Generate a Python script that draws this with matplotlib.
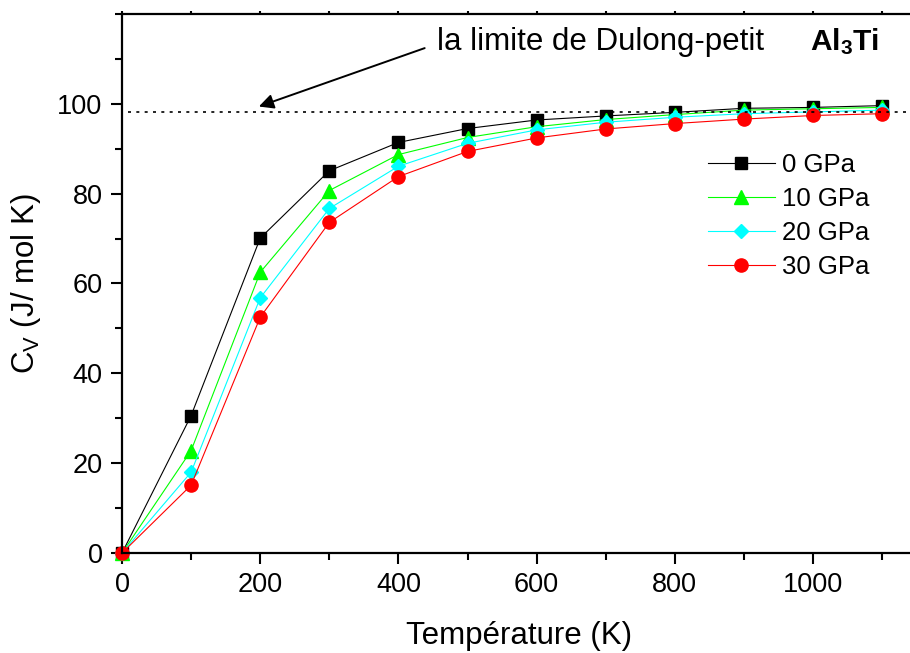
import numpy as np
import matplotlib
matplotlib.use("Agg")
from matplotlib import pyplot as plt
from matplotlib.ticker import MultipleLocator

plt.rcParams['font.family'] = ['Liberation Sans', 'DejaVu Sans']
plt.rcParams['mathtext.fontset'] = 'custom'
plt.rcParams['mathtext.rm'] = 'Liberation Sans'
plt.rcParams['mathtext.it'] = 'Liberation Sans:italic'
plt.rcParams['mathtext.bf'] = 'Liberation Sans:bold'

# temperatures (K)
temperature = [0, 100, 200, 300, 400, 500, 600, 700, 800, 900, 1000, 1100]

# heat capacity Cv (J/mol K) at each pressure
cv_0gpa = [0, 30.6, 70.1, 85.1, 91.4, 94.5, 96.4, 97.3, 98.1, 99.0, 99.2, 99.6]
cv_10gpa = [0, 22.8, 62.5, 80.7, 88.7, 92.5, 94.9, 96.5, 97.6, 98.6, 98.9, 99.2]
cv_20gpa = [0, 18.0, 56.8, 76.7, 86.1, 91.2, 94.2, 95.9, 97.0, 97.8, 98.2, 98.6]
cv_30gpa = [0, 15.1, 52.5, 73.6, 83.8, 89.4, 92.4, 94.4, 95.6, 96.6, 97.4, 97.8]

series_labels = ['0 GPa', '10 GPa', '20 GPa', '30 GPa']
dulong_petit = 98.2


def main():
    fig = plt.figure(figsize=(9.1, 6.53), dpi=100)
    ax = fig.add_axes([0.1341, 0.1531, 0.8732, 0.8255])

    styles = [
        ('black', 's', 8.5),
        ('#00ff00', '^', 10),
        ('#00ffff', 'D', 7),
        ('#ff0000', 'o', 9.5),
    ]
    series = [cv_0gpa, cv_10gpa, cv_20gpa, cv_30gpa]
    for values, label, (color, marker, ms) in zip(series, series_labels, styles):
        ax.plot(temperature, values, color=color, lw=0.8, marker=marker,
                markersize=ms, markeredgecolor=color, markerfacecolor=color,
                label=label, clip_on=False)

    ax.hlines(dulong_petit, 8, 1150, colors='black', lw=1.2,
              linestyles=(0, (1.8, 3.2)))

    ax.annotate('', xy=(198, 99.4), xytext=(438, 112.4),
                arrowprops=dict(arrowstyle='-|>', color='black', lw=1.4,
                                mutation_scale=22, shrinkA=0, shrinkB=0))
    ax.text(456, 112, 'la limite de Dulong-petit', fontsize=22.5, va='baseline')
    ax.text(996, 112, r'$\mathbf{Al_3Ti}$', fontsize=21.5, va='baseline')

    ax.set_xlim(0, 1150)
    ax.set_ylim(0, 120)
    ax.xaxis.set_major_locator(MultipleLocator(200))
    ax.xaxis.set_minor_locator(MultipleLocator(100))
    ax.yaxis.set_minor_locator(MultipleLocator(10))
    ax.set_yticks([0, 20, 40, 60, 80, 100])

    for side in ['left', 'bottom', 'top', 'right']:
        ax.spines[side].set_linewidth(1.6)
    ax.tick_params(which='major', direction='out', length=8, width=1.5,
                   labelsize=19.5, pad=6)
    ax.tick_params(which='minor', direction='out', length=5, width=1.5)

    # tiny ticks on the top frame
    top = ax.secondary_xaxis('top')
    top.xaxis.set_major_locator(MultipleLocator(100))
    top.tick_params(direction='out', length=2, width=1.5, labeltop=False)
    top.spines['top'].set_visible(False)

    ax.set_xlabel('Température (K)', fontsize=22.5, labelpad=16)
    ax.set_ylabel(r'C$_\mathrm{V}$ (J/ mol K)', fontsize=22.5, labelpad=10)

    ax.legend(loc='upper left', bbox_to_anchor=(0.764, 0.786),
              bbox_transform=fig.transFigure, frameon=False, fontsize=18.5,
              borderpad=0, handlelength=2.6, handletextpad=0.27,
              labelspacing=0.4)

    fig.savefig('out.png', dpi=100)


if __name__ == '__main__':
    main()
